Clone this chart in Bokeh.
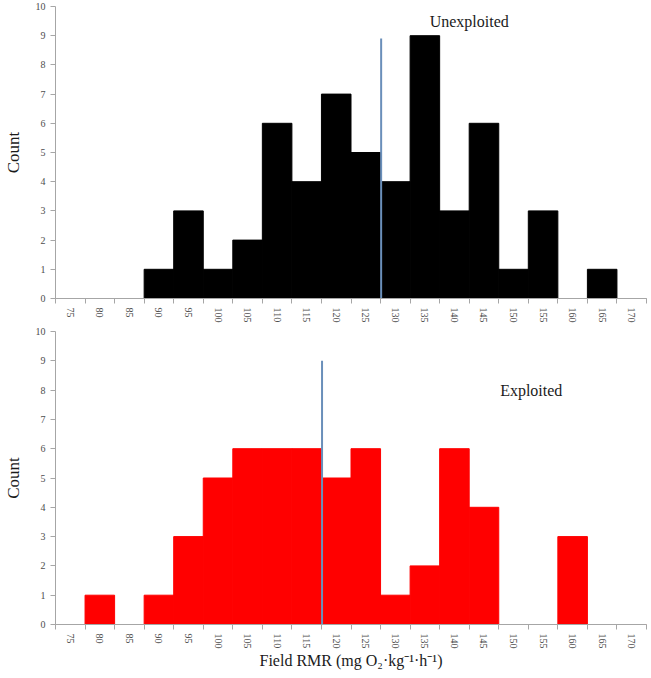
import math
from bokeh.plotting import figure
from bokeh.layouts import column
from bokeh.models import Range1d, FixedTicker, Label
from bokeh.embed import file_html
from bokeh.resources import INLINE

# ---- data ----
bins = [75, 80, 85, 90, 95, 100, 105, 110, 115, 120, 125, 130, 135, 140, 145, 150, 155, 160, 165, 170]
unexploited = [0, 0, 0, 1, 3, 1, 2, 6, 4, 7, 5, 4, 9, 3, 6, 1, 3, 0, 1, 0]
exploited = [0, 1, 0, 1, 3, 5, 6, 6, 6, 5, 6, 1, 2, 6, 4, 0, 0, 3, 0, 0]
median_unexploited = 127.6
median_exploited = 117.6
median_line_top = [8.9, 9.0]
bin_width = 5
y_ticks = list(range(0, 11))

FONT = "Liberation Serif"
AXIS_GRAY = "#a6a6a6"
LABEL_GRAY = "#4d4d4d"


def make_panel(counts, color, median, line_top, title, tx, ty, height, border_top, border_bottom, xlabel=None):
    lo = bins[0] - bin_width / 2
    hi = bins[-1] + bin_width / 2
    p = figure(width=648, height=height, output_backend="svg", toolbar_location=None,
               x_range=Range1d(lo, hi), y_range=Range1d(0, 10),
               min_border_left=55, min_border_right=2,
               min_border_top=border_top, min_border_bottom=border_bottom)
    p.outline_line_color = None
    p.xgrid.grid_line_color = None
    p.ygrid.grid_line_color = None
    p.background_fill_color = "white"

    p.vbar(x=bins, top=counts, width=bin_width, fill_color=color, line_color=color, line_width=1)
    p.segment(x0=[median], y0=[0], x1=[median], y1=[line_top], line_color="#6a8fba", line_width=2)

    p.add_layout(Label(x=tx, y=ty, text=title, text_font=FONT, text_font_size="16px",
                       text_align="center", text_baseline="middle", text_color="#1a1a1a"))

    boundaries = [b - bin_width / 2 for b in bins] + [bins[-1] + bin_width / 2]
    xa = p.xaxis[0]
    xa.ticker = FixedTicker(ticks=bins, minor_ticks=boundaries)
    xa.major_label_orientation = -math.pi / 2
    xa.major_tick_in = 0
    xa.major_tick_out = 0
    xa.minor_tick_in = 0
    xa.minor_tick_out = 5
    xa.minor_tick_line_color = AXIS_GRAY
    xa.axis_line_color = AXIS_GRAY
    xa.major_label_text_font = FONT
    xa.major_label_text_font_size = "10px"
    xa.major_label_text_color = LABEL_GRAY
    xa.major_label_standoff = 4
    if xlabel:
        xa.axis_label = xlabel
        xa.axis_label_text_font = FONT
        xa.axis_label_text_font_size = "16px"
        xa.axis_label_text_font_style = "normal"
        xa.axis_label_text_color = "#1a1a1a"
        xa.axis_label_standoff = 0

    ya = p.yaxis[0]
    ya.ticker = FixedTicker(ticks=y_ticks)
    ya.minor_tick_line_color = None
    ya.major_tick_in = 0
    ya.major_tick_out = 5
    ya.major_tick_line_color = AXIS_GRAY
    ya.axis_line_color = AXIS_GRAY
    ya.major_label_text_font = FONT
    ya.major_label_text_font_size = "10px"
    ya.major_label_text_color = LABEL_GRAY
    ya.major_label_standoff = 5
    ya.axis_label = "Count"
    ya.axis_label_text_font = FONT
    ya.axis_label_text_font_size = "17px"
    ya.axis_label_text_font_style = "normal"
    ya.axis_label_text_color = "#1a1a1a"
    ya.axis_label_standoff = 10
    return p


p1 = make_panel(unexploited, "black", median_unexploited, median_line_top[0], "Unexploited",
                142.5, 9.5, height=326, border_top=6, border_bottom=28)
p2 = make_panel(exploited, "red", median_exploited, median_line_top[1], "Exploited",
                153.0, 8.0, height=352, border_top=5, border_bottom=54,
                xlabel="Field RMR (mg O\u2082\u00b7kg\u207b\u00b9\u00b7h\u207b\u00b9)")

layout = column(p1, p2, spacing=0)
open("out.html", "w").write(file_html(layout, INLINE))
